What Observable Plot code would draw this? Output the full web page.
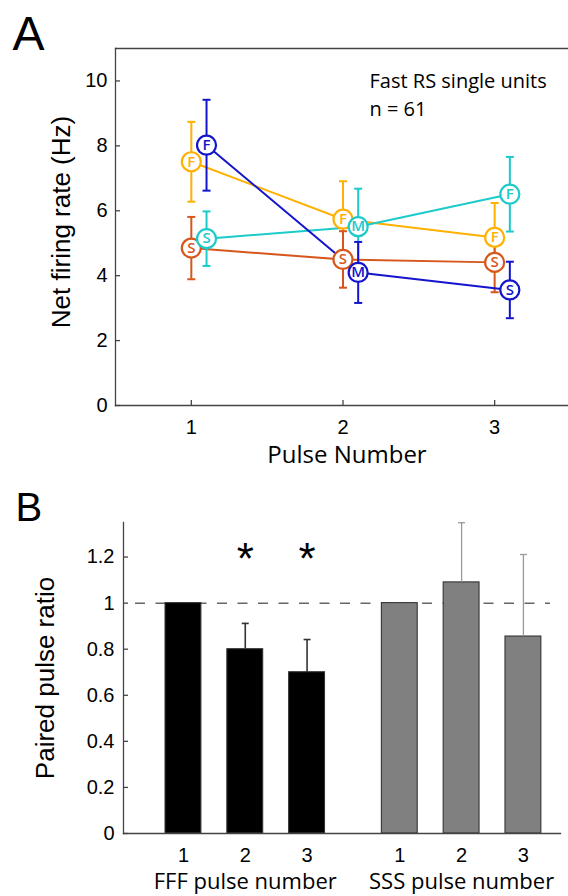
<!DOCTYPE html>
<html>
<head>
<meta charset="utf-8">
<script src="https://cdn.jsdelivr.net/npm/d3@7"></script>
<script src="https://cdn.jsdelivr.net/npm/@observablehq/plot@0.6"></script>
<style>
html, body { margin: 0; padding: 0; background: #fff; }
#chart { width: 568px; height: 896px; overflow: hidden; }
#chart svg { display: block; }
</style>
</head>
<body>
<div id="chart"></div>
<script>
// ---------- Panel A data ----------
const pulseNumbers = [1, 2, 3];
const seriesNames = ["FFF", "SSS", "SMF", "FMS"];
const fffMean = [7.51, 5.74, 5.18];
const fffSem  = [1.23, 1.17, 1.06];
const sssMean = [4.85, 4.50, 4.41];
const sssSem  = [0.96, 0.87, 0.92];
const smfMean = [5.14, 5.51, 6.51];
const smfSem  = [0.84, 1.17, 1.15];
const fmsMean = [8.02, 4.10, 3.56];
const fmsSem  = [1.40, 0.94, 0.87];
const yTicksA = [0, 2, 4, 6, 8, 10];
const xTicksA = [1, 2, 3];
const annotationA = ["Fast RS single units", "n = 61"];

// ---------- Panel B data ----------
const ppGroups = ["FFF", "FFF", "FFF", "SSS", "SSS", "SSS"];
const ppPulse  = [1, 2, 3, 1, 2, 3];
const ppRatio  = [1.0, 0.80, 0.70, 1.0, 1.09, 0.855];
const ppSem    = [0, 0.112, 0.142, 0, 0.259, 0.356];
const sigGroups = ["FFF", "FFF"];
const sigPulse  = [2, 3];
const yTicksB = [0, 0.2, 0.4, 0.6, 0.8, 1, 1.2];
const groupNames = ["FFF", "SSS"];
const referenceRatio = [1];

// ---------- styles / layout ----------
const seriesColor = {FFF: "#FFB000", SSS: "#D6561C", SMF: "#1CCACA", FMS: "#1414CC"};
const seriesDx = {FFF: 0, SSS: 0, SMF: 15.2, FMS: 15.2};
const groupOffset = {FFF: 0, SSS: 3.5};
const groupFill = {FFF: "#000000", SSS: "#808080"};
const groupErr = {FFF: {stroke: "#333", width: 1.6}, SSS: {stroke: "#9a9a9a", width: 1.3}};
const axisColor = "#444";
const sansTick = "'Liberation Sans', Arial, Helvetica, sans-serif";
const sansLabel = "'Open Sans', 'Noto Sans', sans-serif";

const capSymbol = {
  draw(ctx, size) {
    const r = Math.sqrt(size / Math.PI);
    ctx.moveTo(-r, 0);
    ctx.lineTo(r, 0);
  }
};

const meansBy = {FFF: fffMean, SSS: sssMean, SMF: smfMean, FMS: fmsMean};
const semBy = {FFF: fffSem, SSS: sssSem, SMF: smfSem, FMS: fmsSem};

// ---------- Panel A ----------
const WA = 568, HA = 470, mtA = 48, mbA = 65, mlA = 115, mrA = 0;
const fwA = WA - mlA - mrA, fhA = HA - mtA - mbA;

const seriesData = seriesNames.map((name) => ({
  name,
  color: seriesColor[name],
  dx: seriesDx[name],
  rows: pulseNumbers.map((p, i) => ({
    pulse: p, mean: meansBy[name][i], sem: semBy[name][i], letter: name[i]
  }))
}));

// lines and error bars of every series first, then the lettered markers on top
const lineMarks = seriesData.flatMap(({color, dx, rows}) => [
  Plot.line(rows, {x: "pulse", y: "mean", stroke: color, strokeWidth: 2, dx}),
  Plot.ruleX(rows, {x: "pulse", y1: d => d.mean - d.sem, y2: d => d.mean + d.sem, stroke: color, strokeWidth: 2, dx}),
  Plot.dot(rows, {x: "pulse", y: d => d.mean - d.sem, symbol: capSymbol, r: 4, fill: "none", stroke: color, strokeWidth: 2, dx}),
  Plot.dot(rows, {x: "pulse", y: d => d.mean + d.sem, symbol: capSymbol, r: 4, fill: "none", stroke: color, strokeWidth: 2, dx})
]);
const markerMarks = seriesData.flatMap(({color, dx, rows}) => [
  Plot.dot(rows, {x: "pulse", y: "mean", r: 9.5, fill: "white", stroke: color, strokeWidth: 2.2, dx}),
  Plot.text(rows, {x: "pulse", y: "mean", text: "letter", fill: color, fontSize: 15, fontWeight: 600, fontFamily: sansLabel, dx})
]);

const plotA = Plot.plot({
  width: WA, height: HA,
  marginTop: mtA, marginBottom: mbA, marginLeft: mlA, marginRight: mrA,
  style: {fontFamily: sansTick, fontSize: "20px", color: "#000", background: "#fff"},
  x: {domain: [0.5, 3.487], axis: null},
  y: {domain: [0, 11], axis: null},
  marks: [
    Plot.frame({anchor: "top", stroke: axisColor, strokeWidth: 1.3}),
    Plot.frame({anchor: "left", stroke: axisColor, strokeWidth: 1.3}),
    Plot.frame({anchor: "bottom", stroke: axisColor, strokeWidth: 1.3}),
    Plot.tickY(yTicksA, {y: d => d, stroke: axisColor, strokeWidth: 1.3, insetRight: fwA - 5}),
    Plot.tickX(xTicksA, {x: d => d, stroke: axisColor, strokeWidth: 1.3, insetTop: fhA - 5}),
    Plot.axisY(yTicksA, {tickSize: 0, tickPadding: 8, fontSize: 20, label: null, tickFormat: d3.format("d")}),
    Plot.axisX(xTicksA, {tickSize: 0, tickPadding: 14, fontSize: 20, label: null, tickFormat: d3.format("d")}),
    Plot.text(["Net firing rate (Hz)"], {frameAnchor: "left", textAnchor: "middle", rotate: -90, dx: -54, dy: -5, fontSize: 26}),
    Plot.text(["Pulse Number"], {frameAnchor: "bottom", textAnchor: "middle", lineAnchor: "top", dx: 5, dy: 40, fontSize: 24, fontFamily: sansLabel}),
    Plot.text(["A"], {frameAnchor: "top-left", textAnchor: "start", lineAnchor: "top", dx: 12 - mlA, dy: 15 - mtA, fontSize: 48}),
    Plot.text([annotationA.join("\n")], {frameAnchor: "top-left", textAnchor: "start", lineAnchor: "top", dx: 254, dy: 19, fontSize: 20, lineHeight: 1.42, fontFamily: sansLabel}),
    ...lineMarks,
    ...markerMarks
  ]
});

// ---------- Panel B ----------
const WB = 568, HB = 426, mtB = 52, mbB = 63, mlB = 123, mrB = 8;
const fwB = WB - mlB - mrB;

const ppData = ppGroups.map((g, i) => ({
  group: g, pulse: ppPulse[i], pos: ppPulse[i] + groupOffset[g], ratio: ppRatio[i], sem: ppSem[i]
}));
const sigData = sigGroups.map((g, i) => ({group: g, pos: sigPulse[i] + groupOffset[g]}));
const groupLabelData = groupNames.map(g => ({group: g, pos: 2 + groupOffset[g], label: `${g} pulse number`}));
const barHalf = 0.29;

const barMarks = groupNames.flatMap((g) => {
  const rows = ppData.filter(d => d.group === g);
  const errRows = rows.filter(d => d.sem > 0);
  const e = groupErr[g];
  return [
    Plot.rect(rows, {x1: d => d.pos - barHalf, x2: d => d.pos + barHalf, y1: () => 0, y2: "ratio", fill: groupFill[g], stroke: "#333", strokeWidth: 1.1}),
    Plot.ruleX(errRows, {x: "pos", y1: "ratio", y2: d => d.ratio + d.sem, stroke: e.stroke, strokeWidth: e.width}),
    Plot.dot(errRows, {x: "pos", y: d => d.ratio + d.sem, symbol: capSymbol, r: 3.5, fill: "none", stroke: e.stroke, strokeWidth: e.width})
  ];
});

const plotB = Plot.plot({
  width: WB, height: HB,
  marginTop: mtB, marginBottom: mbB, marginLeft: mlB, marginRight: mrB,
  style: {fontFamily: sansTick, fontSize: "20px", color: "#000", background: "#fff"},
  x: {domain: [0.03, 7.1], axis: null},
  y: {domain: [0, 1.35], axis: null},
  marks: [
    Plot.ruleY(referenceRatio, {stroke: "#666", strokeWidth: 1.5, strokeDasharray: "10,10.5", insetLeft: 12, insetRight: 10}),
    ...barMarks,
    Plot.frame({anchor: "left", stroke: axisColor, strokeWidth: 1.3}),
    Plot.frame({anchor: "bottom", stroke: axisColor, strokeWidth: 1.3}),
    Plot.tickY(yTicksB, {y: d => d, stroke: axisColor, strokeWidth: 1.3, insetRight: fwB - 5}),
    Plot.axisY(yTicksB, {tickSize: 0, tickPadding: 9, fontSize: 20, label: null, tickFormat: d3.format("~g")}),
    Plot.axisX(ppData.map(d => d.pos), {tickSize: 0, tickPadding: 14, fontSize: 20, label: null, tickFormat: (d, i) => String(ppPulse[i])}),
    Plot.text(sigData, {x: "pos", frameAnchor: "top", text: () => "*", lineAnchor: "top", dy: 20, fontSize: 44}),
    Plot.text(groupLabelData, {x: "pos", text: "label", frameAnchor: "bottom", lineAnchor: "top", dy: 40, fontSize: 22, fontFamily: sansLabel}),
    Plot.text(["Paired pulse ratio"], {frameAnchor: "left", textAnchor: "middle", rotate: -90, dx: -78, fontSize: 26}),
    Plot.text(["B"], {frameAnchor: "top-left", textAnchor: "start", lineAnchor: "top", dx: 15 - mlB, dy: 492 - 470 - mtB, fontSize: 40})
  ]
});

const chart = document.getElementById("chart");
chart.appendChild(plotA);
chart.appendChild(plotB);
</script>
</body>
</html>
